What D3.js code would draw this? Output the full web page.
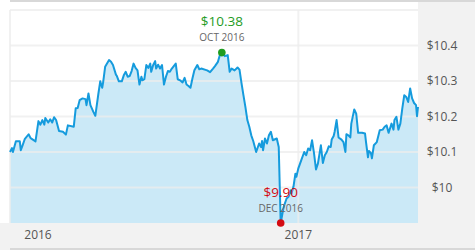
<!DOCTYPE html>
<html>
<head>
<meta charset="utf-8">
<script src="https://cdn.jsdelivr.net/npm/d3@7"></script>
<style>
  body { margin: 0; background: #ffffff; }
  text { font-family: "Open Sans", sans-serif; }
</style>
</head>
<body>
<svg id="price_chart"></svg>
<script>

// closing prices
const dates = [
  "2016-03-13","2016-03-15","2016-03-16","2016-03-19","2016-03-23","2016-03-24","2016-03-26","2016-03-28",
  "2016-04-01","2016-04-03","2016-04-08","2016-04-11","2016-04-13","2016-04-15","2016-04-17","2016-04-18",
  "2016-04-21","2016-04-23","2016-04-25","2016-04-27","2016-04-29","2016-05-02","2016-05-06","2016-05-09",
  "2016-05-11","2016-05-17","2016-05-19","2016-05-21","2016-05-23","2016-05-26","2016-05-29","2016-05-30",
  "2016-06-01","2016-06-03","2016-06-06","2016-06-08","2016-06-11","2016-06-13","2016-06-15","2016-06-16",
  "2016-06-18","2016-06-22","2016-06-24","2016-06-26","2016-06-29","2016-06-30","2016-07-02","2016-07-05",
  "2016-07-07","2016-07-09","2016-07-11","2016-07-13","2016-07-15","2016-07-17","2016-07-19","2016-07-21",
  "2016-07-23","2016-07-25","2016-07-26","2016-07-28","2016-07-30","2016-08-01","2016-08-03","2016-08-04",
  "2016-08-06","2016-08-08","2016-08-09","2016-08-11","2016-08-13","2016-08-15","2016-08-17","2016-08-19",
  "2016-08-21","2016-08-23","2016-08-25","2016-08-29","2016-08-31","2016-09-03","2016-09-05","2016-09-07",
  "2016-09-09","2016-09-11","2016-09-13","2016-09-15","2016-09-17","2016-09-20","2016-09-22","2016-09-24",
  "2016-09-30","2016-10-03","2016-10-06","2016-10-08","2016-10-11","2016-10-13","2016-10-15","2016-10-18",
  "2016-10-21","2016-10-23","2016-10-25","2016-10-28","2016-10-31","2016-11-02","2016-11-04","2016-11-06",
  "2016-11-08","2016-11-10","2016-11-12","2016-11-14","2016-11-16","2016-11-19","2016-11-22","2016-11-24",
  "2016-11-25","2016-11-26","2016-11-28","2016-11-30","2016-12-02","2016-12-04","2016-12-06","2016-12-10",
  "2016-12-12","2016-12-14","2016-12-17","2016-12-20","2016-12-22","2016-12-24","2016-12-25","2016-12-27",
  "2016-12-29","2016-12-30","2017-01-01","2017-01-04","2017-01-07","2017-01-09","2017-01-11","2017-01-13",
  "2017-01-15","2017-01-17","2017-01-19","2017-01-21","2017-01-24","2017-01-26","2017-01-28","2017-01-30",
  "2017-02-01","2017-02-03","2017-02-04","2017-02-06","2017-02-07","2017-02-09","2017-02-11","2017-02-14",
  "2017-02-16","2017-02-18","2017-02-19","2017-02-21","2017-02-23","2017-02-24","2017-02-27","2017-03-01",
  "2017-03-03","2017-03-07","2017-03-10","2017-03-11","2017-03-13","2017-03-14","2017-03-16","2017-03-17",
  "2017-03-19","2017-03-22","2017-03-25","2017-03-28","2017-03-30","2017-04-01","2017-04-03","2017-04-05",
  "2017-04-06","2017-04-08","2017-04-09","2017-04-11","2017-04-13","2017-04-15","2017-04-17","2017-04-19",
  "2017-04-21","2017-04-23","2017-04-25","2017-04-27","2017-04-29","2017-05-01","2017-05-02","2017-05-03"
]

const prices = [
  10.10, 10.111, 10.10, 10.13, 10.13, 10.105, 10.12, 10.136,
  10.15, 10.139, 10.13, 10.187, 10.177, 10.19, 10.177, 10.196,
  10.183, 10.192, 10.183, 10.198, 10.19, 10.159, 10.157, 10.149,
  10.175, 10.171, 10.223, 10.224, 10.246, 10.251, 10.249, 10.232,
  10.265, 10.232, 10.213, 10.202, 10.262, 10.299, 10.281, 10.297,
  10.34, 10.359, 10.354, 10.345, 10.318, 10.314, 10.299, 10.299,
  10.316, 10.326, 10.312, 10.314, 10.328, 10.349, 10.337, 10.33,
  10.29, 10.312, 10.302, 10.305, 10.345, 10.337, 10.349, 10.326,
  10.345, 10.356, 10.335, 10.346, 10.335, 10.345, 10.29, 10.312,
  10.328, 10.326, 10.335, 10.349, 10.305, 10.301, 10.296, 10.309,
  10.29, 10.286, 10.281, 10.307, 10.33, 10.345, 10.333, 10.335,
  10.33, 10.325, 10.335, 10.342, 10.354, 10.373, 10.38, 10.37,
  10.373, 10.326, 10.335, 10.33, 10.338, 10.332, 10.295, 10.26,
  10.227, 10.19, 10.171, 10.147, 10.131, 10.10, 10.124, 10.114,
  10.131, 10.105, 10.138, 10.124, 10.147, 10.157, 10.133, 10.138,
  10.114, 9.90, 9.945, 9.969, 9.974, 9.992, 9.983, 10.002,
  10.039, 10.03, 10.054, 10.077, 10.10, 10.091, 10.11, 10.105,
  10.133, 10.096, 10.051, 10.068, 10.119, 10.069, 10.091, 10.10,
  10.116, 10.114, 10.135, 10.145, 10.157, 10.19, 10.141, 10.135,
  10.128, 10.10, 10.15, 10.147, 10.141, 10.18, 10.22, 10.208,
  10.154, 10.154, 10.152, 10.128, 10.085, 10.103, 10.097, 10.082,
  10.119, 10.128, 10.161, 10.163, 10.171, 10.175, 10.154, 10.171,
  10.18, 10.163, 10.19, 10.199, 10.163, 10.18, 10.223, 10.26,
  10.255, 10.241, 10.279, 10.251, 10.238, 10.232, 10.201, 10.227
]

const yTicks = [10, 10.1, 10.2, 10.3, 10.4]
const yGrid = [10, 10.1, 10.2, 10.3, 10.4, 10.5]
const yearLabels = ["2016", "2017"]

var dimensions = {
  width: 475,
  height: 250,
  margin: {
    top: 10,
    bottom: 27,
    right: 57,
    left: 10
  }
}
dimensions.boundedWidth = dimensions.width - dimensions.margin.left - dimensions.margin.right
dimensions.boundedHeight = dimensions.height - dimensions.margin.top - dimensions.margin.bottom

const lineColor = "#159bdd"
const areaColor = "#cbe9f7"
const highColor = "#1f9c1f"
const lowColor = "#d40b12"

var parseDate = d3.timeParse("%Y-%m-%d")
var dataset = d3.map(dates, (d, i) => ({ date: parseDate(d), price: prices[i] }))

var xAccessor = d => d.date
var yAccessor = d => d.price

var xScale = d3.scaleTime()
  .domain(d3.extent(dataset, xAccessor))
  .range([0, dimensions.boundedWidth])

var yScale = d3.scaleLinear()
  .domain([9.9, 10.5])
  .range([dimensions.boundedHeight, 0])

var svg = d3.select("#price_chart")
  .attr("width", dimensions.width)
  .attr("height", dimensions.height)

// grey panels behind the axes
svg.append("rect")
  .attr("x", dimensions.margin.left + dimensions.boundedWidth)
  .attr("y", 0)
  .attr("width", dimensions.margin.right)
  .attr("height", dimensions.height)
  .attr("fill", "#f2f2f2")

svg.append("rect")
  .attr("x", 0)
  .attr("y", dimensions.margin.top + dimensions.boundedHeight)
  .attr("width", dimensions.margin.left + dimensions.boundedWidth)
  .attr("height", dimensions.margin.bottom)
  .attr("fill", "#f2f2f2")

// top and bottom rules
svg.append("rect")
  .attr("x", dimensions.margin.left).attr("y", 0)
  .attr("width", dimensions.width - dimensions.margin.left).attr("height", 2)
  .attr("fill", "#d8d8d8")
svg.append("rect")
  .attr("x", dimensions.margin.left).attr("y", dimensions.height - 2)
  .attr("width", dimensions.width - dimensions.margin.left).attr("height", 2)
  .attr("fill", "#d8d8d8")

var bounds = svg.append("g")
  .attr("transform", `translate(${dimensions.margin.left}, ${dimensions.margin.top})`)

// area under the line
bounds.append("path")
  .datum(dataset)
  .attr("fill", areaColor)
  .attr("d", d3.area()
    .x(d => xScale(xAccessor(d)))
    .y0(dimensions.boundedHeight)
    .y1(d => yScale(yAccessor(d)))
  )

// horizontal gridlines
bounds.selectAll(".hgrid")
  .data(yGrid)
  .enter()
  .append("line")
  .attr("class", "hgrid")
  .attr("x1", 0)
  .attr("x2", dimensions.boundedWidth)
  .attr("y1", d => yScale(d))
  .attr("y2", d => yScale(d))
  .attr("stroke", "#ececec")
  .attr("stroke-opacity", 0.75)
  .attr("stroke-width", 2)

// vertical gridlines: left edge and each new year inside the domain
var yearDates = d3.map(yearLabels, y => parseDate(y + "-01-01"))
var vLines = [xScale.domain()[0]].concat(yearDates.filter(d => d >= xScale.domain()[0]))

bounds.selectAll(".vgrid")
  .data(vLines)
  .enter()
  .append("line")
  .attr("class", "vgrid")
  .attr("x1", d => xScale(d))
  .attr("x2", d => xScale(d))
  .attr("y1", 0)
  .attr("y2", dimensions.boundedHeight)
  .attr("stroke", "#ececec")
  .attr("stroke-opacity", 0.75)
  .attr("stroke-width", 2)

// price line
bounds.append("path")
  .datum(dataset)
  .attr("fill", "none")
  .attr("stroke", lineColor)
  .attr("stroke-width", 2)
  .attr("stroke-linejoin", "round")
  .attr("d", d3.line()
    .x(d => xScale(xAccessor(d)))
    .y(d => yScale(yAccessor(d)))
  )

// y axis labels on the right
var yAxis = d3.axisRight(yScale)
  .tickValues(yTicks)
  .tickSize(0)
  .tickPadding(0)
  .tickFormat(d => "$" + d3.format("~f")(d))

var yAxisGroup = bounds.append("g")
  .attr("transform", `translate(${dimensions.boundedWidth + 24}, 0)`)
  .call(yAxis)
yAxisGroup.select(".domain").remove()
yAxisGroup.selectAll("text")
  .attr("text-anchor", "middle")
  .attr("font-family", "Open Sans, sans-serif")
  .attr("font-size", 12)
  .attr("fill", "#555")

// year labels along the bottom
bounds.selectAll(".year")
  .data(yearDates)
  .enter()
  .append("text")
  .attr("class", "year")
  .attr("x", d => Math.max(xScale(d), 28))
  .attr("y", dimensions.boundedHeight + 16)
  .attr("text-anchor", "middle")
  .attr("font-size", 12)
  .attr("fill", "#555")
  .text(d => d3.timeFormat("%Y")(d))

// high / low markers
var high = d3.greatest(dataset, yAccessor)
var low = d3.least(dataset, yAccessor)
var monthFormat = d => d3.timeFormat("%b %Y")(d).toUpperCase()

var markers = [
  { point: high, color: highColor },
  { point: low, color: lowColor }
]

markers.forEach(m => {
  var cx = xScale(xAccessor(m.point))
  var cy = yScale(yAccessor(m.point))

  bounds.append("circle")
    .attr("cx", cx)
    .attr("cy", cy)
    .attr("r", 3.8)
    .attr("fill", m.color)

  bounds.append("text")
    .attr("x", cx)
    .attr("y", cy - 11.5)
    .attr("text-anchor", "middle")
    .attr("font-size", 10)
    .attr("fill", "#666")
    .text(monthFormat(xAccessor(m.point)))

  bounds.append("text")
    .attr("x", cx)
    .attr("y", cy - 26.5)
    .attr("text-anchor", "middle")
    .attr("font-size", 13.5)
    .attr("fill", m.color)
    .text(d3.format("$.2f")(yAccessor(m.point)))
})

</script>
</body>
</html>
